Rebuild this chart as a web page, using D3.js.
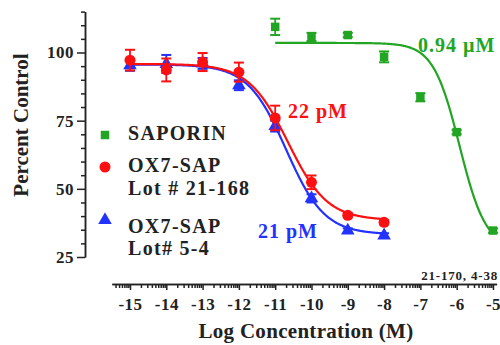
<!DOCTYPE html>
<html>
<head>
<meta charset="utf-8">
<script src="https://cdn.jsdelivr.net/npm/d3@7"></script>
<style>
  body { margin: 0; background: #fff; }
  text { font-family: "Liberation Serif", "Times New Roman", serif; font-weight: bold; }
</style>
</head>
<body>
<div id="chart"></div>
<script>
// log concentration (M)
var logConc = [-15, -14, -13, -12, -11, -10, -9, -8];
var sapLogConc = [-11, -10, -9, -8, -7, -6, -5];

// percent control
var redValues = [97.2, 93.6, 96.5, 92.8, 76, 52.4, 40.3, 37.7];
var redErrors = [3.8, 4.2, 3.3, 3.5, 4.5, 2.5, 0.8, 0.8];
var blueValues = [95.3, 95.8, 96, 88, 73, 46.5, 34.7, 32.9];
var blueErrors = [2, 3.3, 2, 1.8, 2, 1.5, 0.8, 0.8];
var greenValues = [109.4, 105.7, 106.4, 98.4, 83.6, 70.8, 34.7];
var greenErrors = [3, 1.5, 0.8, 2, 1.5, 0.8, 0.8];

// fitted curve params: top, bottom, logEC50, hill, from, to
var redFit = [95.8, 38.5, -10.65, 0.8, -15, -8];
var blueFit = [95.6, 33.3, -10.7, 0.82, -15, -8];
var greenFit = [103.5, 28, -5.92, 1.2, -11, -5];

var xMajor = [-15, -14, -13, -12, -11, -10, -9, -8, -7, -6, -5];
var yMajor = [25, 50, 75, 100];

var svg = d3.select('#chart')
    .append('svg')
    .attr('width', 500)
    .attr('height', 345);

var x = d3.scaleLinear().domain([-15.5, -4.9]).range([111.85, 496.6]);
var y = d3.scaleLinear().domain([25, 115]).range([257, 11.6]);

// minor ticks
var xMinor = [];
for (var dec = -16; dec < -4; dec++) {
    for (var k = 2; k <= 9; k++) {
        var v = dec + Math.log10(k);
        if (v >= -15.5 && v <= -4.9) xMinor.push(v);
    }
}
var yMinor = d3.range(25, 116, 5).filter(function(d) { return yMajor.indexOf(d) < 0; });

var axisStyle = function(g) {
    g.selectAll('path, line').attr('stroke', '#222').attr('stroke-width', 1.5);
    g.selectAll('text').attr('fill', '#222').style('font-size', '17px').style('letter-spacing', '0.5px');
};

svg.append('g')
    .attr('transform', 'translate(0,284)')
    .call(d3.axisBottom(x).tickValues(xMinor).tickSize(4).tickSizeOuter(0).tickFormat(''))
    .call(axisStyle);
svg.append('g')
    .attr('transform', 'translate(0,284)')
    .call(d3.axisBottom(x).tickValues(xMajor).tickSize(6).tickSizeOuter(0).tickPadding(8)
        .tickFormat(function(d) { return String(d); }))
    .call(axisStyle);

svg.append('g')
    .attr('transform', 'translate(85,0)')
    .call(d3.axisLeft(y).tickValues(yMinor).tickSize(4).tickSizeOuter(0).tickFormat(''))
    .call(axisStyle);
svg.append('g')
    .attr('transform', 'translate(85,0)')
    .call(d3.axisLeft(y).tickValues(yMajor).tickSize(8).tickSizeOuter(0).tickPadding(3))
    .call(axisStyle);

// axis titles
svg.append('text')
    .attr('x', 306).attr('y', 338)
    .attr('text-anchor', 'middle')
    .style('font-size', '21px')
    .style('letter-spacing', '0.3px')
    .attr('fill', '#222')
    .text('Log Concentration (M)');
svg.append('text')
    .attr('transform', 'translate(28,125) rotate(-90)')
    .attr('text-anchor', 'middle')
    .style('font-size', '21px')
    .attr('fill', '#222')
    .text('Percent Control');

svg.append('text')
    .attr('x', 498).attr('y', 280)
    .attr('text-anchor', 'end')
    .style('font-size', '13px')
    .style('letter-spacing', '0.8px')
    .attr('fill', '#222')
    .text('21-170, 4-38');

function fitCurve(p) {
    var pts = d3.range(p[4], p[5] + 0.001, 0.02);
    return pts.map(function(v) {
        return [v, p[1] + (p[0] - p[1]) / (1 + Math.pow(10, (v - p[2]) * p[3]))];
    });
}

var line = d3.line()
    .x(function(d) { return x(d[0]); })
    .y(function(d) { return y(d[1]); });

function symSize(shape) {
    if (shape === d3.symbolSquare) return 72;
    if (shape === d3.symbolCircle) return 95;
    return 80;
}

function drawSeries(xs, vals, errs, fit, color, shape) {
    var g = svg.append('g');
    g.append('path')
        .datum(fitCurve(fit))
        .attr('d', line)
        .attr('fill', 'none')
        .attr('stroke', color)
        .attr('stroke-width', 2.2);

    var eb = g.selectAll('.eb').data(vals).enter().append('g');
    eb.append('line')
        .attr('x1', function(d, i) { return x(xs[i]); })
        .attr('x2', function(d, i) { return x(xs[i]); })
        .attr('y1', function(d, i) { return y(d + errs[i]); })
        .attr('y2', function(d, i) { return y(d - errs[i]); })
        .attr('stroke', color).attr('stroke-width', 1.8);
    [1, -1].forEach(function(s) {
        eb.append('line')
            .attr('x1', function(d, i) { return x(xs[i]) - 5; })
            .attr('x2', function(d, i) { return x(xs[i]) + 5; })
            .attr('y1', function(d, i) { return y(d + s * errs[i]); })
            .attr('y2', function(d, i) { return y(d + s * errs[i]); })
            .attr('stroke', color).attr('stroke-width', 2);
    });

    g.selectAll('.pt').data(vals).enter().append('path')
        .attr('transform', function(d, i) { return 'translate(' + x(xs[i]) + ',' + y(d) + ')'; })
        .attr('d', d3.symbol().type(shape).size(symSize(shape)))
        .attr('fill', color);
}

var green = '#22a522', red = '#ff1010', blue = '#2233ff';
drawSeries(sapLogConc, greenValues, greenErrors, greenFit, green, d3.symbolSquare);
drawSeries(logConc, blueValues, blueErrors, blueFit, blue, d3.symbolTriangle);
drawSeries(logConc, redValues, redErrors, redFit, red, d3.symbolCircle);

// IC50 labels
svg.append('text').attr('x', 418).attr('y', 52).attr('fill', green)
    .style('font-size', '20px').style('letter-spacing', '1px').text('0.94 µM');
svg.append('text').attr('x', 288).attr('y', 118).attr('fill', red)
    .style('font-size', '20px').style('letter-spacing', '1px').text('22 pM');
svg.append('text').attr('x', 258).attr('y', 238).attr('fill', blue)
    .style('font-size', '20px').style('letter-spacing', '1px').text('21 pM');

// legend
var legendNames = ['SAPORIN', 'OX7-SAP', 'Lot # 21-168', 'OX7-SAP', 'Lot# 5-4'];
var legendY = [140, 172, 195, 233, 255];
svg.selectAll('.lg').data(legendNames).enter().append('text')
    .attr('x', 128)
    .attr('y', function(d, i) { return legendY[i]; })
    .attr('fill', '#222')
    .style('font-size', '20px')
    .style('letter-spacing', '1.3px')
    .text(function(d) { return d; });

var legendMarks = [[d3.symbolSquare, green, 135], [d3.symbolCircle, red, 167], [d3.symbolTriangle, blue, 220]];
svg.selectAll('.lm').data(legendMarks).enter().append('path')
    .attr('transform', function(d) { return 'translate(105,' + d[2] + ')'; })
    .attr('d', function(d) { return d3.symbol().type(d[0]).size(symSize(d[0]))(); })
    .attr('fill', function(d) { return d[1]; });
</script>
</body>
</html>
